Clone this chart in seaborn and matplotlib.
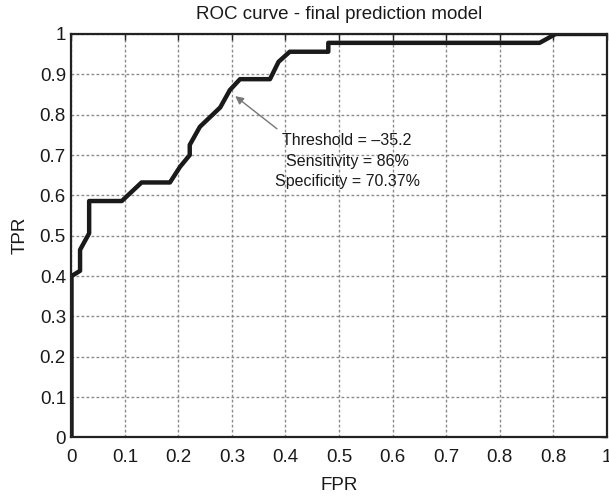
import numpy as np
import pandas as pd
import matplotlib
matplotlib.use("Agg")
import matplotlib.pyplot as plt
import seaborn as sns

# ROC points (FPR, TPR)
fpr = [0.0, 0.0, 0.016, 0.016, 0.033, 0.033, 0.094, 0.131, 0.184, 0.203, 0.221,
       0.221, 0.240, 0.278, 0.296, 0.315, 0.371, 0.387, 0.408, 0.480, 0.480,
       0.875, 0.905, 1.0]
tpr = [0.0, 0.400, 0.413, 0.465, 0.506, 0.586, 0.586, 0.632, 0.632, 0.671, 0.700,
       0.725, 0.770, 0.818, 0.861, 0.888, 0.888, 0.931, 0.956, 0.956, 0.978,
       0.978, 1.0, 1.0]

xticks = [0, 0.1, 0.2, 0.3, 0.4, 0.5, 0.6, 0.7, 0.8, 0.9, 1]
xtick_labels = ["0", "0.1", "0.2", "0.3", "0.4", "0.5", "0.6", "0.7", "0.8", "0.8", "1"]
yticks = [0, 0.1, 0.2, 0.3, 0.4, 0.5, 0.6, 0.7, 0.8, 0.9, 1]
ytick_labels = ["0", "0.1", "0.2", "0.3", "0.4", "0.5", "0.6", "0.7", "0.8", "0.9", "1"]

note_lines = ["Threshold = \u201335.2", "Sensitivity = 86%", "Specificity = 70.37%"]
cut_point = (0.306, 0.846)

sns.set_style("white")
plt.rcParams["font.family"] = ["Liberation Sans", "DejaVu Sans"]

fig = plt.figure(figsize=(6.09, 4.96), dpi=100)
ax = fig.add_axes([0.1174, 0.118, 0.8785, 0.8135])

df = pd.DataFrame({"FPR": fpr, "TPR": tpr})
sns.lineplot(data=df, x="FPR", y="TPR", sort=False, estimator=None,
             color="#1a1a1a", linewidth=3.2, ax=ax)

ax.set_xlim(0, 1)
ax.set_ylim(0, 1)
ax.set_xticks(xticks)
ax.set_xticklabels(xtick_labels)
ax.set_yticks(yticks)
ax.set_yticklabels(ytick_labels)

ax.grid(True, color="#8a8a8a", linestyle=(0, (2, 1.6)), linewidth=1.0)
ax.set_axisbelow(True)
for s in ax.spines.values():
    s.set_visible(True)
    s.set_color("#222222")
    s.set_linewidth(1.6)

ax.tick_params(direction="in", length=4, width=1, top=True, right=True,
               labelsize=13.5, colors="#222222")
ax.tick_params(axis="x", pad=8)
ax.tick_params(axis="y", pad=4)
ax.tick_params(axis="both", labelcolor="#1a1a1a")

ax.set_title("ROC curve - final prediction model", fontsize=13.5, pad=11, color="#1a1a1a")
ax.set_xlabel("FPR", fontsize=13.5, labelpad=8, color="#1a1a1a")
ax.set_ylabel("TPR", fontsize=13.5, labelpad=8, color="#1a1a1a")

ax.text(0.515, 0.685, "\n".join(note_lines), ha="center", va="center",
        fontsize=11.5, linespacing=1.45, color="#1a1a1a")
ax.annotate("", xy=cut_point, xytext=(0.384, 0.765),
            arrowprops=dict(arrowstyle="-|>", color="#777777", lw=1.0,
                            mutation_scale=12, shrinkA=0, shrinkB=0))

fig.savefig("out.png", dpi=100)
